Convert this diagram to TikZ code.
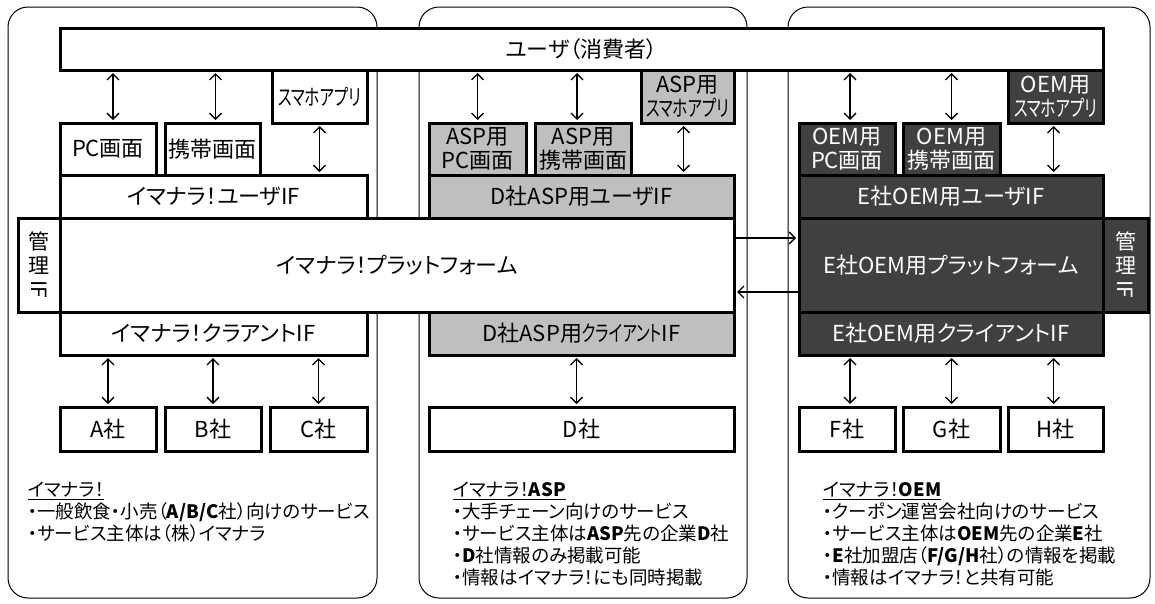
\documentclass[tikz,border=0pt]{standalone}
\usepackage{fontspec}
\usepackage{graphicx}
\setmainfont{Noto Sans CJK JP}[RawFeature=+palt]
\usepackage{tikz}
\usetikzlibrary{arrows.meta}
\definecolor{aspgray}{HTML}{BFBFBF}
\definecolor{oemdark}{HTML}{404040}
\newcommand{\hw}[1]{\scalebox{0.7}[1]{#1}}
\newcommand{\vif}{管\\理\\\rotatebox[origin=c]{-90}{IF}}
\tikzset{panel/.style={draw,line width=1pt,rounded corners=20pt},
         unit/.style={draw,fill=white,line width=3pt,inner sep=1pt,align=center,font=\fontsize{22}{24}\selectfont},
         aspunit/.style={unit,fill=aspgray},
         oemunit/.style={unit,fill=oemdark,text=white},
         mgr/.style={minimum width=42,minimum height=94,font=\fontsize{21}{24}\selectfont},
         bothway/.style={line width=1.3pt,shorten <=1.5pt,shorten >=1.5pt,
                         {Straight Barb[length=6pt,width=12pt]}-{Straight Barb[length=6pt,width=12pt]}},
         oneway/.style={line width=1.3pt,shorten >=1.5pt,-{Straight Barb[length=6pt,width=12pt]}},
         note/.style={anchor=north west,inner sep=0pt,align=left,font=\fontsize{18.5}{22}\selectfont}}

\begin{document}
\begin{tikzpicture}[x=1pt,y=-1pt]
\useasboundingbox (0,0) rectangle (1155,603);
\draw[panel] (8,7) rectangle (377,598);
\draw[panel] (419,7) rectangle (747,598);
\draw[panel] (788,7) rectangle (1150,598);

\node[unit,minimum width=1043,minimum height=42] (user) at (581.5,49) {ユーザ（消費者）};

% imanara
\node[unit,minimum width=96,minimum height=52] (pc1) at (108,149) {PC画面};
\node[unit,minimum width=95,minimum height=52] (mob1) at (212.5,149) {携帯画面};
\node[unit,minimum width=95,minimum height=53] (app1) at (319.5,96.5) {\hw{スマホアプリ}};
\node[unit,minimum width=307,minimum height=43] (uif1) at (213.5,196.5) {イマナラ！ユーザIF};
\node[unit,minimum width=674,minimum height=94] (plat1) at (397,265) {イマナラ！プラットフォーム};
\node[unit,mgr] (mgr1) at (39,265) {\vif};
\node[unit,minimum width=307,minimum height=43] (cif1) at (213.5,333.5) {イマナラ！クラアントIF};
\node[unit,minimum width=96,minimum height=44] (coA) at (108,429) {A社};
\node[unit,minimum width=96,minimum height=44] (coB) at (213,429) {B社};
\node[unit,minimum width=97,minimum height=44] (coC) at (318.5,429) {C社};
\node[note] (note1) at (28,482) {\underline{イマナラ！}\\
  ・一般飲食・小売（\textbf{A/B/C}社）向けのサービス\\
  ・サービス主体は（株）イマナラ};

% asp
\node[aspunit,minimum width=97,minimum height=52] (pc2) at (477.5,149) {ASP用\\PC画面};
\node[aspunit,minimum width=96,minimum height=52] (mob2) at (583,149) {ASP用\\携帯画面};
\node[aspunit,minimum width=93,minimum height=53] (app2) at (687.5,96.5) {ASP用\\\hw{スマホアプリ}};
\node[aspunit,minimum width=305,minimum height=43] (uif2) at (581.5,196.5) {D社ASP用ユーザIF};
\node[aspunit,minimum width=305,minimum height=43] (cif2) at (581.5,333.5) {D社ASP用\hw{クライアント}IF};
\node[unit,minimum width=305,minimum height=44] (coD) at (581.5,429) {D社};
\node[note] (note2) at (453,482) {\underline{イマナラ！\textbf{ASP}}\\
  ・大手チェーン向けのサービス\\
  ・サービス主体は\textbf{ASP}先の企業\textbf{D}社\\
  ・\textbf{D}社情報のみ掲載可能\\
  ・情報はイマナラ！にも同時掲載};

% oem
\node[oemunit,minimum width=96,minimum height=52] (pc3) at (847,149) {OEM用\\PC画面};
\node[oemunit,minimum width=97,minimum height=52] (mob3) at (951.5,149) {OEM用\\携帯画面};
\node[oemunit,minimum width=95,minimum height=53] (app3) at (1055.5,96.5) {OEM用\\\hw{スマホアプリ}};
\node[oemunit,minimum width=304,minimum height=43] (uif3) at (951,196.5) {E社OEM用ユーザIF};
\node[oemunit,minimum width=304,minimum height=94] (plat3) at (951,265) {E社OEM用プラットフォーム};
\node[oemunit,mgr,minimum width=45] (mgr3) at (1125.5,265) {\vif};
\node[oemunit,minimum width=304,minimum height=43] (cif3) at (951,333.5) {E社OEM用クライアントIF};
\node[unit,minimum width=96,minimum height=44] (coF) at (847,429) {F社};
\node[unit,minimum width=97,minimum height=44] (coG) at (951.5,429) {G社};
\node[unit,minimum width=95,minimum height=44] (coH) at (1055.5,429) {H社};
\node[note] (note3) at (823,482) {\underline{イマナラ！\textbf{OEM}}\\
  ・クーポン運営会社向けのサービス\\
  ・サービス主体は\textbf{OEM}先の企業\textbf{E}社\\
  ・\textbf{E}社加盟店（\textbf{F/G/H}社）の情報を掲載\\
  ・情報はイマナラ！と共有可能};

\draw[bothway] ([xshift=5]pc1.north) -- ([xshift=5]pc1.north |- user.south);
\draw[bothway] ([xshift=3]mob1.north) -- ([xshift=3]mob1.north |- user.south);
\draw[bothway] (uif1.north -| app1) -- (app1.south);
\draw[bothway] (cif1.south -| pc1) -- (coA.north);
\draw[bothway] (cif1.south -| coB) -- (coB.north);
\draw[bothway] (cif1.south -| coC) -- (coC.north);

\draw[bothway] (pc2.north) -- (pc2.north |- user.south);
\draw[bothway] ([xshift=-6]mob2.north) -- ([xshift=-6]mob2.north |- user.south);
\draw[bothway] ([xshift=-4]uif2.north -| app2) -- ([xshift=-4]app2.south);
\draw[bothway] ([xshift=-5]cif2.south -| coD) -- ([xshift=-5]coD.north);

\draw[bothway] ([xshift=3]pc3.north) -- ([xshift=3]pc3.north |- user.south);
\draw[bothway] (mob3.north) -- (mob3.north |- user.south);
\draw[bothway] ([xshift=-2]uif3.north -| app3) -- ([xshift=-2]app3.south);
\draw[bothway] ([xshift=3]cif3.south -| coF) -- ([xshift=3]coF.north);
\draw[bothway] (cif3.south -| coG) -- (coG.north);
\draw[bothway] ([xshift=-2]cif3.south -| coH) -- ([xshift=-2]coH.north);

\draw[oneway] ([yshift=27]plat1.east) -- ([yshift=27]plat1.east -| plat3.west);
\draw[oneway] ([yshift=-27]plat3.west) -- ([yshift=-27]plat3.west -| plat1.east);
\end{tikzpicture}
\end{document}
